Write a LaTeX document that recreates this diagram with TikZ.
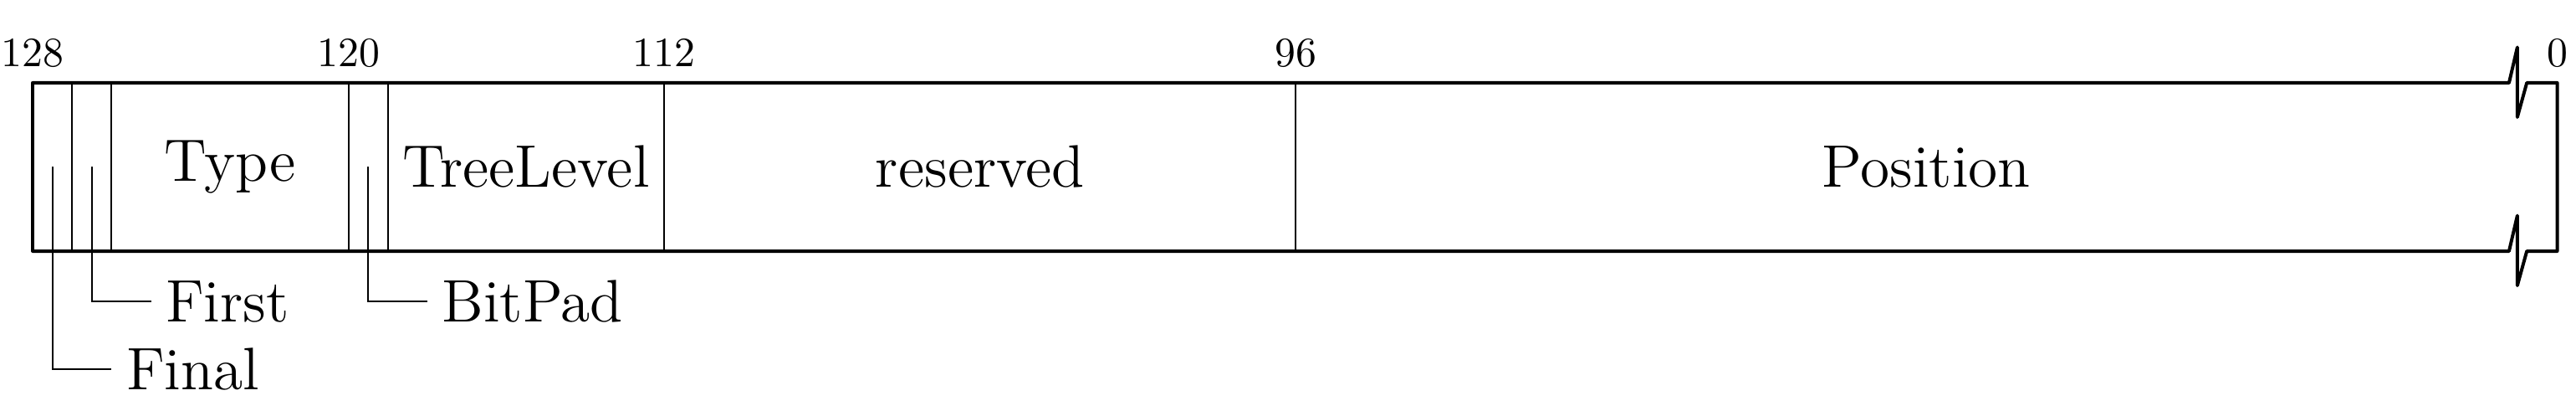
\documentclass[tikz,border=0pt]{standalone}
\usepackage{tikz}
\usetikzlibrary{positioning}

\begin{document}
\begin{tikzpicture}[font=\Large,
    bitnum/.style={font=\normalsize,anchor=base,inner sep=0pt},
    field/.style={anchor=center},
    lbl/.style={anchor=west},
    sep/.style={thin},
    leader/.style={thin}]
    \useasboundingbox (-0.2754,-1.2994) rectangle (21.4756,2.1186);
    % outline with a break before bit 0
    \draw[thick,line join=round] (0,0) -- (20.91,0) -- (20.98,0.3) -- (20.98,-0.29) -- (21.06,0)
      -- (21.317,0) -- (21.317,1.42) -- (21.06,1.42) -- (20.98,1.13) -- (20.98,1.72)
      -- (20.91,1.42) -- (0,1.42) -- cycle;
    \foreach \b in {127,126,120,119,112,96}
      \draw[sep] ({(128-\b)/3},0) -- ({(128-\b)/3},1.42);
    % bit numbers
    \node[bitnum] (n128) at (0,1.56) {128};
    \node[bitnum] (n120) at ({8/3},1.56) {120};
    \node[bitnum] (n112) at ({16/3},1.56) {112};
    \node[bitnum] (n96) at ({32/3},1.56) {96};
    \node[bitnum] (n0) at (21.317,1.56) {0};
    % fields
    \node[field] (type) at ({5/3},0.71) {Type};
    \node[field] (level) at ({12.5/3},0.71) {TreeLevel};
    \node[field] (resv) at (8,0.71) {reserved};
    \node[field] (pos) at (15.99,0.71) {Position};
    % single-bit flags
    \coordinate (cfinal) at ({0.5/3},0.71);
    \coordinate (cfirst) at ({1.5/3},0.71);
    \coordinate (cpad) at ({8.5/3},0.71);
    \node[lbl] (first) at (1.0,-0.424) {First};
    \node[lbl] (final) at (0.667,-0.994) {Final};
    \node[lbl] (bitpad) at (3.333,-0.424) {BitPad};
    \draw[leader] (cfirst) |- (first.west);
    \draw[leader] (cfinal) |- (final.west);
    \draw[leader] (cpad) |- (bitpad.west);
  \end{tikzpicture}
\end{document}
